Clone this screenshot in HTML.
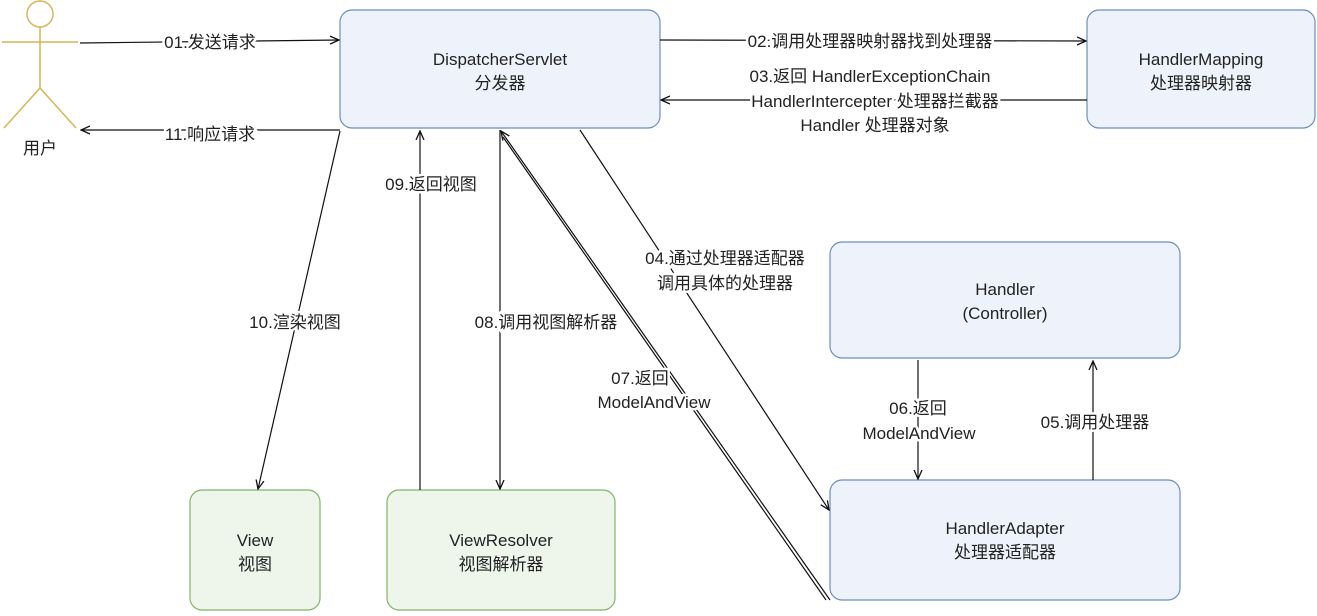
<!DOCTYPE html>
<html><head><meta charset="utf-8"><style>
html,body{margin:0;padding:0;background:#fff;}
svg text{font-family:"Liberation Sans","Noto Sans CJK SC",sans-serif;font-size:17px;fill:#222;}
</style></head><body>
<svg width="1317" height="611" viewBox="0 0 1317 611" xmlns="http://www.w3.org/2000/svg">
<defs>
<marker id="a" markerWidth="10" markerHeight="10" refX="9" refY="5" orient="auto" markerUnits="userSpaceOnUse">
<path d="M0,1 L9,5 L0,9" fill="none" stroke="#111" stroke-width="1.3"/></marker>
</defs>
<g stroke-width="1.2">
<rect x="340" y="10" width="320" height="118" rx="12" fill="#eef3fb" stroke="#6c8ebf"/>
<rect x="1087" y="10" width="228" height="118" rx="12" fill="#eef3fb" stroke="#6c8ebf"/>
<rect x="830" y="242" width="350" height="116" rx="12" fill="#eef3fb" stroke="#6c8ebf"/>
<rect x="830" y="480" width="350" height="120" rx="12" fill="#eef3fb" stroke="#6c8ebf"/>
<rect x="190" y="490" width="130" height="120" rx="12" fill="#eef6ec" stroke="#82b366"/>
<rect x="387" y="490" width="228" height="120" rx="12" fill="#eef6ec" stroke="#82b366"/>
</g>
<!-- stick figure -->
<g stroke="#d6b656" stroke-width="1.5" fill="#fff">
<circle cx="40" cy="14" r="13"/>
<line x1="40" y1="27" x2="40" y2="88"/>
<line x1="2" y1="42" x2="78" y2="42"/>
<line x1="40" y1="88" x2="4" y2="128"/>
<line x1="40" y1="88" x2="76" y2="128"/>
</g>
<text x="40" y="154" text-anchor="middle">用户</text>
<g stroke="#111" stroke-width="1.2" fill="none">
<line x1="80" y1="43" x2="339" y2="40" marker-end="url(#a)"/>
<line x1="660" y1="40" x2="1086" y2="41" marker-end="url(#a)"/>
<line x1="1087" y1="100" x2="661" y2="100" marker-end="url(#a)"/>
<line x1="340" y1="130" x2="81" y2="130" marker-end="url(#a)"/>
<line x1="340" y1="131" x2="258" y2="489" marker-end="url(#a)"/>
<line x1="420" y1="490" x2="420" y2="131" marker-end="url(#a)"/>
<line x1="500" y1="130" x2="500" y2="489" marker-end="url(#a)"/>
<line x1="830" y1="600" x2="501" y2="131" marker-end="url(#a)"/>
<line x1="826" y1="600" x2="503" y2="137"/>
<line x1="580" y1="130" x2="829" y2="510" marker-end="url(#a)"/>
<line x1="918" y1="360" x2="918" y2="479" marker-end="url(#a)"/>
<line x1="1093" y1="480" x2="1093" y2="361" marker-end="url(#a)"/>
</g>
<g text-anchor="middle">
<text x="500" y="65">DispatcherServlet</text><text x="500" y="89">分发器</text>
<text x="1201" y="65">HandlerMapping</text><text x="1201" y="89">处理器映射器</text>
<text x="1005" y="295">Handler</text><text x="1005" y="319">(Controller)</text>
<text x="1005" y="534">HandlerAdapter</text><text x="1005" y="558">处理器适配器</text>
<text x="255" y="546">View</text><text x="255" y="570">视图</text>
<text x="501" y="546">ViewResolver</text><text x="501" y="570">视图解析器</text>
</g>
<g text-anchor="middle" style="paint-order:stroke" stroke="#fff" stroke-width="5">
<text x="210" y="48">01.发送请求</text>
<text x="870" y="47">02.调用处理器映射器找到处理器</text>
<text x="870" y="82">03.返回 HandlerExceptionChain</text>
<text x="875" y="107">HandlerIntercepter 处理器拦截器</text>
<text x="875" y="131">Handler 处理器对象</text>
<text x="210" y="140">11.响应请求</text>
<text x="295" y="328">10.渲染视图</text>
<text x="431" y="190">09.返回视图</text>
<text x="546" y="328">08.调用视图解析器</text>
<text x="640" y="384">07.返回</text>
<text x="654" y="408">ModelAndView</text>
<text x="725" y="264">04.通过处理器适配器</text>
<text x="725" y="289">调用具体的处理器</text>
<text x="918" y="414">06.返回</text>
<text x="919" y="439">ModelAndView</text>
<text x="1095" y="428">05.调用处理器</text>
</g>
</svg>
</body></html>
